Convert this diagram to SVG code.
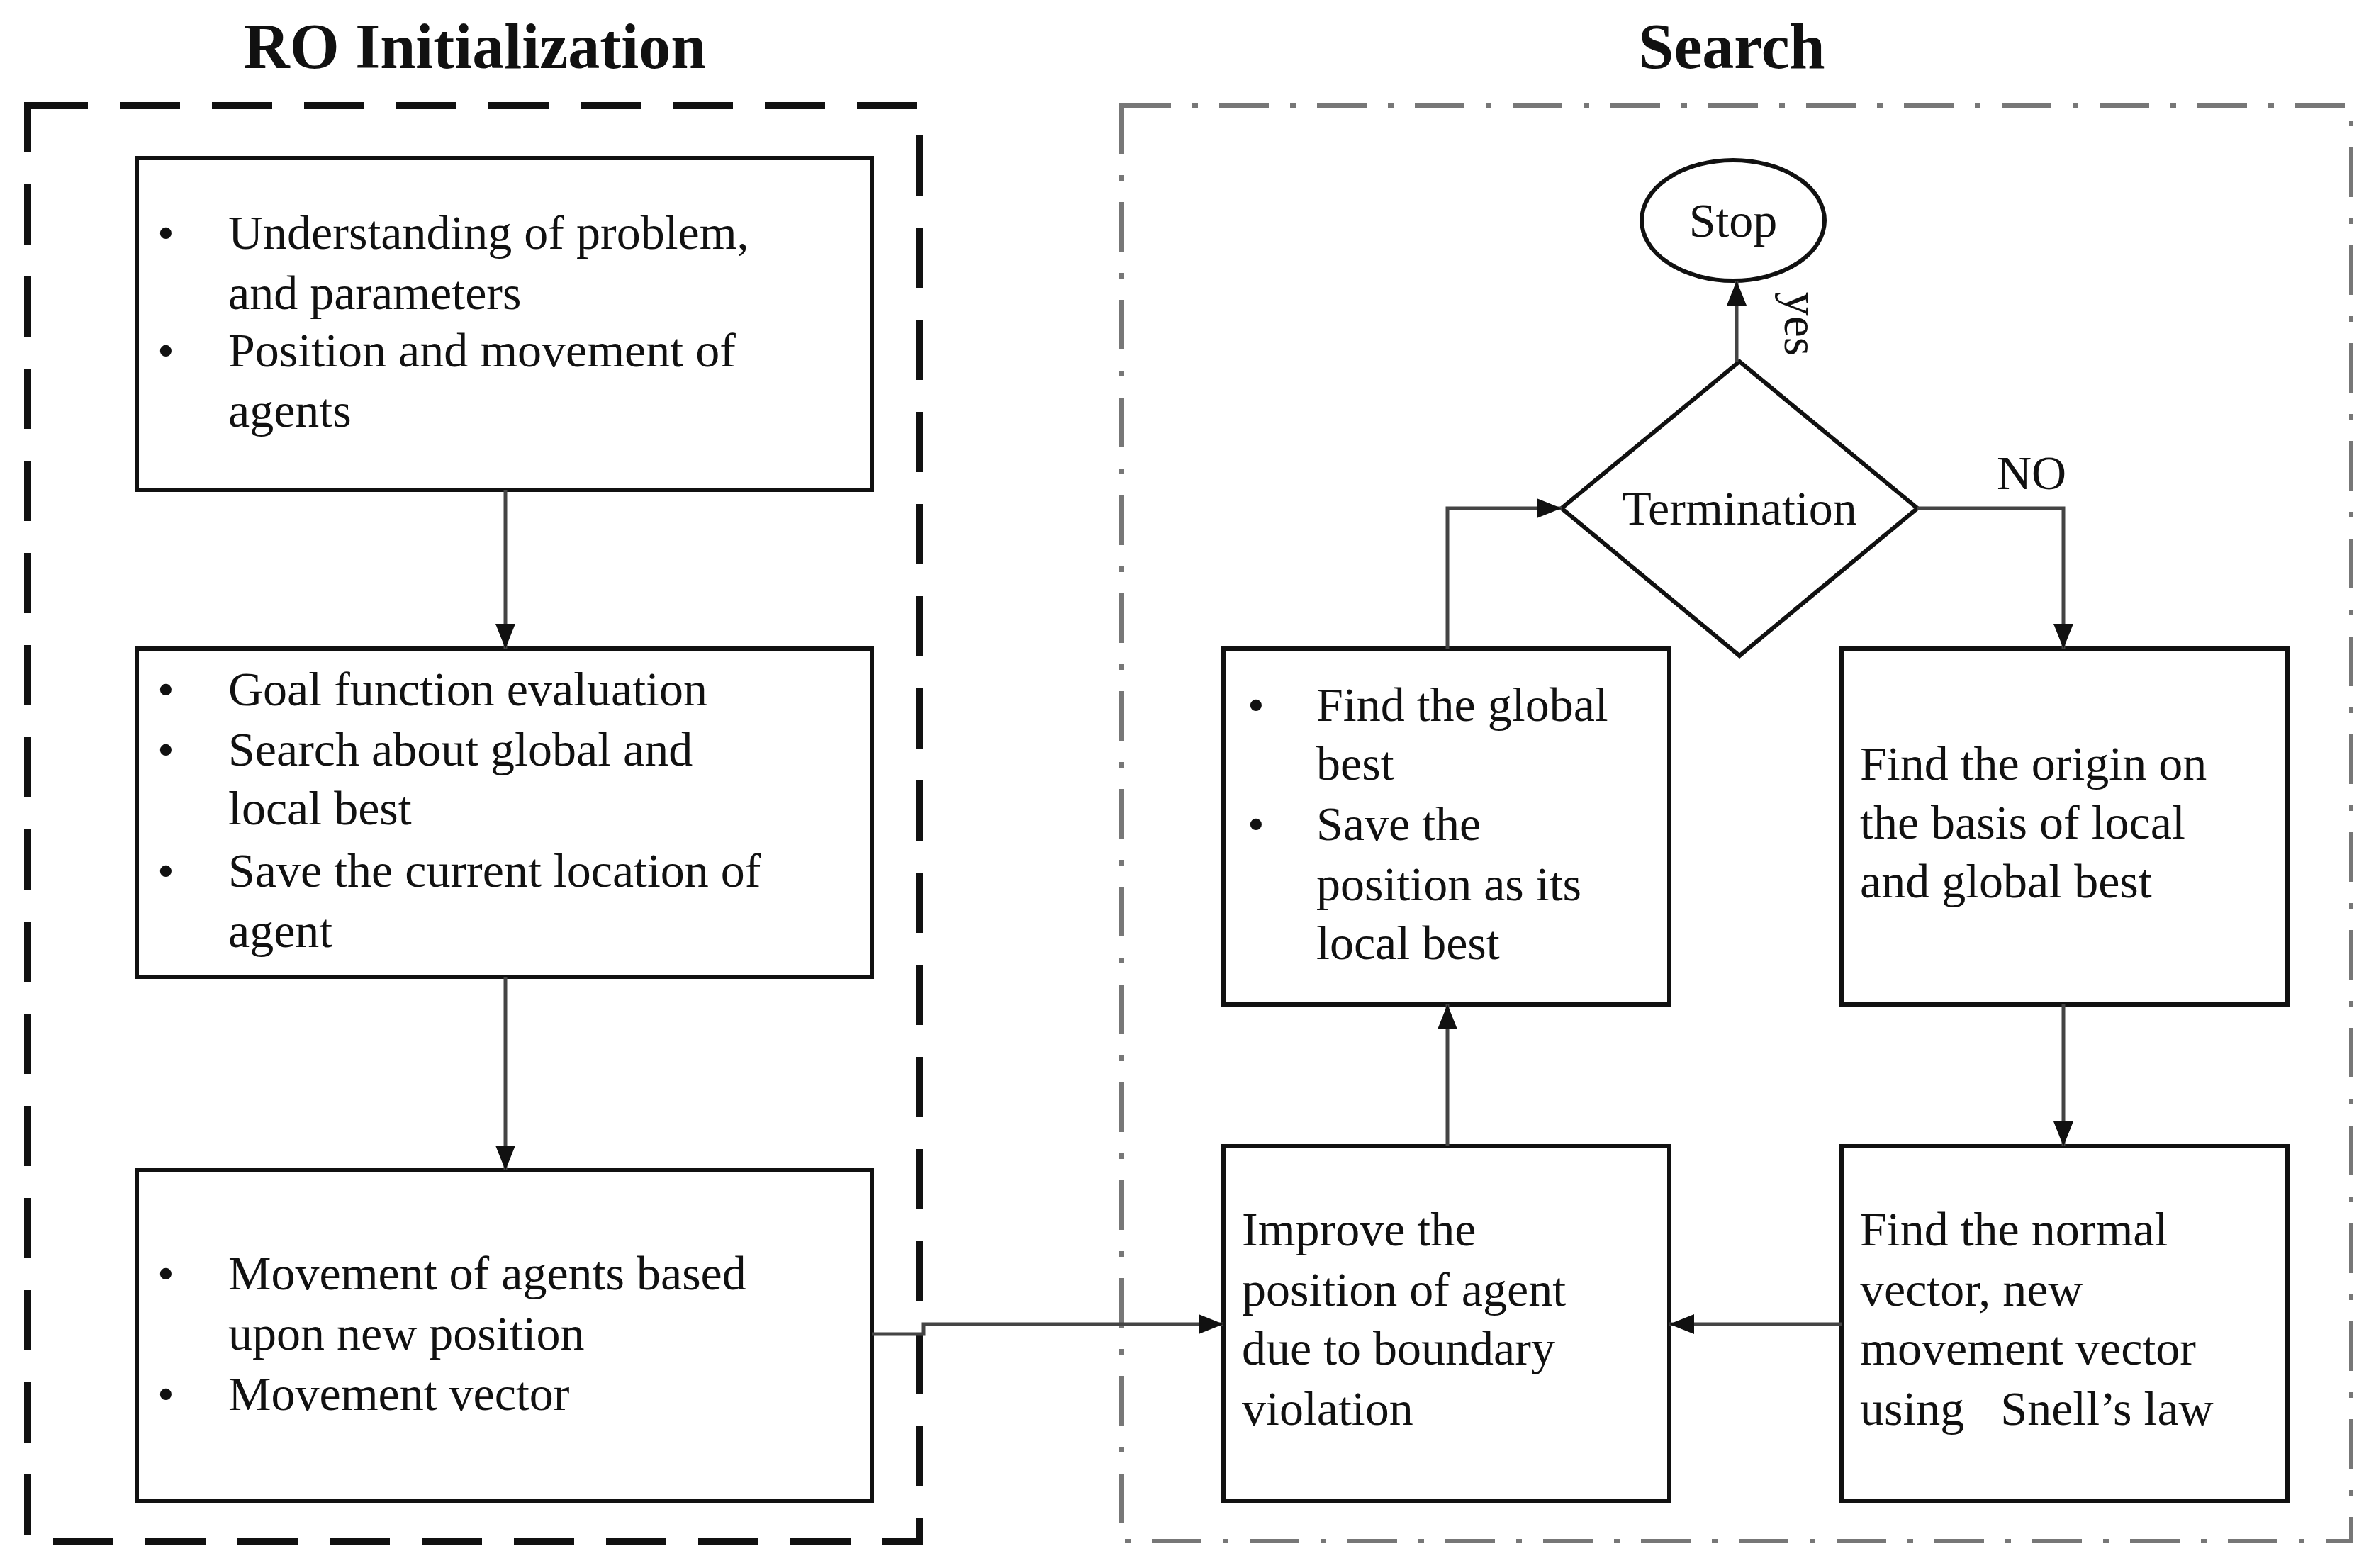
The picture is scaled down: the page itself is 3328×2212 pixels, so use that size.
<svg xmlns="http://www.w3.org/2000/svg" width="3328" height="2212" viewBox="0 0 3328 2212">
<style>
.t{font-family:"Liberation Serif",serif;font-size:68px;fill:#111}
.h{font-family:"Liberation Serif",serif;font-size:90px;font-weight:bold;fill:#111;text-anchor:middle}
.b{fill:#fff;stroke:#111;stroke-width:6}
.c{fill:none;stroke:#444;stroke-width:5}
</style>
<defs>
<marker id="m" viewBox="0 0 10 10" refX="10" refY="5" markerWidth="7" markerHeight="7" orient="auto"><path d="M0,1L10,5L0,9z" fill="#111"/></marker></defs>
<rect width="3328" height="2212" fill="#fff"/>
<g id="frames">
<rect x="39" y="149" width="1258" height="2025" fill="none" stroke="#111" stroke-width="10" stroke-dasharray="85 45"/>
<rect x="1582" y="149" width="1735" height="2025" fill="none" stroke="#777" stroke-width="6" stroke-dasharray="70 30 8 30"/>
<text class="h" x="670" y="96">RO Initialization</text>
<text class="h" x="2443" y="96">Search</text>
</g>
<g id="box1"><rect class="b" x="193" y="223" width="1037" height="468"/>
<text class="t" x="222" y="351">•</text><text class="t" x="322" y="351">Understanding of problem,</text>
<text class="t" x="322" y="436">and parameters</text>
<text class="t" x="222" y="517">•</text><text class="t" x="322" y="517">Position and movement of</text>
<text class="t" x="322" y="602">agents</text></g>
<g id="box2"><rect class="b" x="193" y="915" width="1037" height="463"/>
<text class="t" x="222" y="995">•</text><text class="t" x="322" y="995">Goal function evaluation</text>
<text class="t" x="222" y="1080">•</text><text class="t" x="322" y="1080">Search about global and</text>
<text class="t" x="322" y="1163">local best</text>
<text class="t" x="222" y="1251">•</text><text class="t" x="322" y="1251">Save the current location of</text>
<text class="t" x="322" y="1336">agent</text></g>
<g id="box3"><rect class="b" x="193" y="1651" width="1037" height="467"/>
<text class="t" x="222" y="1819">•</text><text class="t" x="322" y="1819">Movement of agents based</text>
<text class="t" x="322" y="1904">upon new position</text>
<text class="t" x="222" y="1989">•</text><text class="t" x="322" y="1989">Movement vector</text></g>
<g id="stop"><ellipse class="b" cx="2445" cy="311" rx="129" ry="85"/><text class="t" x="2445" y="334" text-anchor="middle">Stop</text></g>
<g id="term"><polygon class="b" points="2454,510 2705,717 2454,925 2203,717"/><text class="t" x="2454" y="740" text-anchor="middle">Termination</text></g>
<g id="global"><rect class="b" x="1726" y="915" width="629" height="502"/>
<text class="t" x="1760" y="1017">•</text><text class="t" x="1857" y="1017">Find the global</text>
<text class="t" x="1857" y="1100">best</text>
<text class="t" x="1760" y="1185">•</text><text class="t" x="1857" y="1185">Save the</text>
<text class="t" x="1857" y="1270">position as its</text>
<text class="t" x="1857" y="1353">local best</text></g>
<g id="origin"><rect class="b" x="2598" y="915" width="629" height="502"/>
<text class="t" x="2624" y="1100">Find the origin on</text>
<text class="t" x="2624" y="1183">the basis of local</text>
<text class="t" x="2624" y="1266">and global best</text></g>
<g id="improve"><rect class="b" x="1726" y="1617" width="629" height="501"/>
<text class="t" x="1752" y="1757">Improve the</text>
<text class="t" x="1752" y="1842">position of agent</text>
<text class="t" x="1752" y="1925">due to boundary</text>
<text class="t" x="1752" y="2010">violation</text></g>
<g id="normal"><rect class="b" x="2598" y="1617" width="629" height="501"/>
<text class="t" x="2624" y="1757">Find the normal</text>
<text class="t" x="2624" y="1842">vector, new</text>
<text class="t" x="2624" y="1925">movement vector</text>
<text class="t" x="2624" y="2010" xml:space="preserve">using   Snell’s law</text></g>
<g id="connectors">
<path class="c" marker-end="url(#m)" d="M713,691V915"/>
<path class="c" marker-end="url(#m)" d="M713,1378V1651"/>
<path class="c" marker-end="url(#m)" d="M1230,1882H1303V1868H1726"/>
<path class="c" marker-end="url(#m)" d="M2598,1868H2355"/>
<path class="c" marker-end="url(#m)" d="M2042,1617V1417"/>
<path class="c" marker-end="url(#m)" d="M2042,915V717H2203"/>
<path class="c" marker-end="url(#m)" d="M2705,717H2911V915"/>
<path class="c" marker-end="url(#m)" d="M2911,1417V1617"/>
<path class="c" marker-end="url(#m)" d="M2450,510V396"/>
<text class="t" x="2866" y="690" text-anchor="middle">NO</text>
<text class="t" transform="translate(2518,457) rotate(90)" text-anchor="middle">yes</text>
</g>
</svg>
